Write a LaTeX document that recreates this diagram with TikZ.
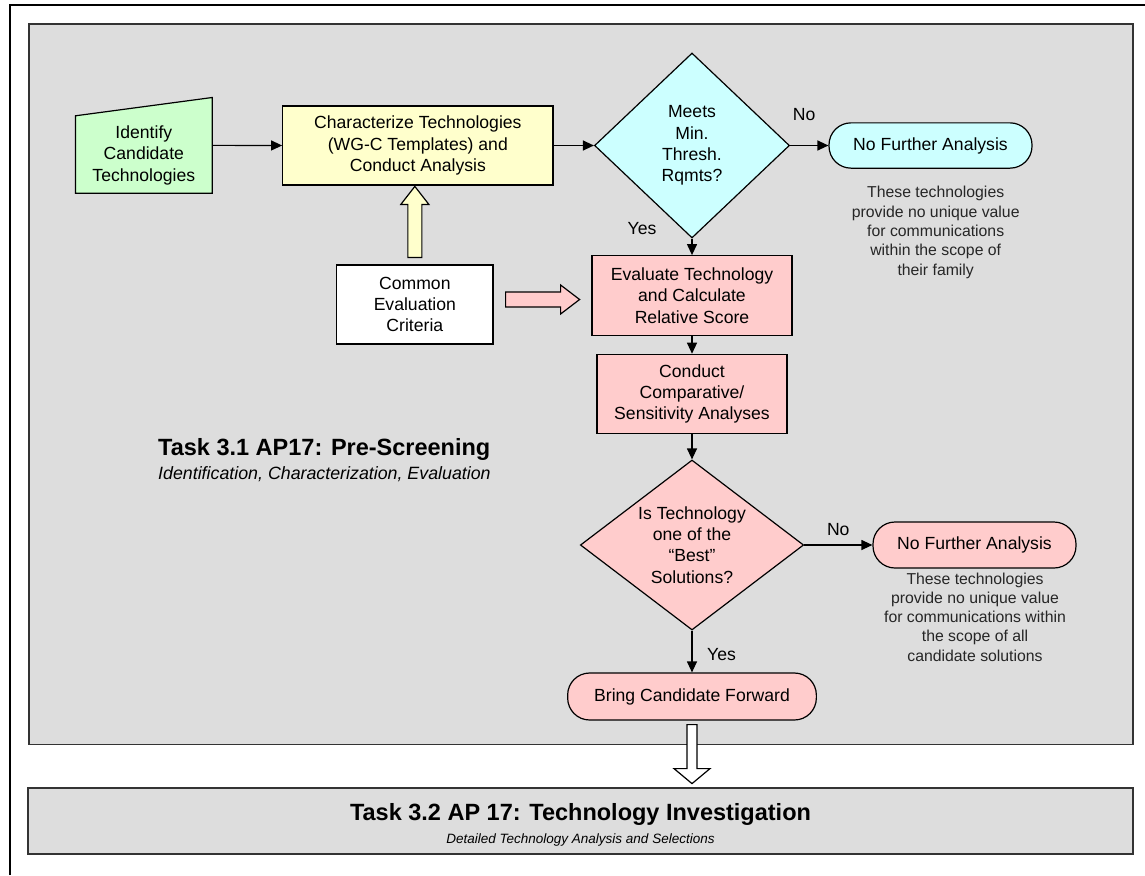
\documentclass[tikz,border=0pt]{standalone}
\usepackage{fontspec}
\setmainfont{Liberation Sans}
\usetikzlibrary{arrows.meta,shapes.geometric,calc}

\definecolor{idgreen}{HTML}{CCFFCC}
\definecolor{charyellow}{HTML}{FFFFCC}
\definecolor{threshcyan}{HTML}{CCFFFF}
\definecolor{evalpink}{HTML}{FFCCCC}
\definecolor{panelgray}{HTML}{DDDDDD}
\definecolor{paneledge}{HTML}{333333}

\tikzset{
	flowbox/.style={draw=black, line width=1.2pt, align=center, inner sep=0pt, font=\fontsize{17.6}{21.3}\selectfont},
	decision/.style={flowbox, diamond},
	terminal/.style={flowbox, rounded corners=22pt},
	flowarrow/.style={line width=1.2pt, -{Triangle[length=11pt,width=10pt]}},
	blockarrow/.style={draw=black, line width=1.2pt},
	panel/.style={draw=paneledge, fill=panelgray, line width=1.5pt},
	note/.style={align=center, inner sep=0pt, text=black!85, font=\fontsize{15.8}{19.3}\selectfont},
	lbl/.style={inner sep=0pt, font=\fontsize{17.6}{21.3}\selectfont}
}

\begin{document}
\begin{tikzpicture}[x=1pt,y=1pt,yscale=-1,xscale=1]
	\useasboundingbox (0,0) rectangle (1145,875);
	% frame and panels
	\draw[line width=2pt] (10,875) -- (10,5.5) -- (1145,5.5);
	\draw[panel] (29,24) rectangle (1133,744.5);
	\node[panel, minimum width=1105pt, minimum height=66pt] (task32) at (580.5,821) {};
	\node[anchor=base west, inner sep=0pt, font=\fontsize{23.5}{28}\selectfont\bfseries] (task31) at (158,455) {Task 3.1 AP17: Pre-Screening};
	\node[anchor=base west, inner sep=0pt, font=\fontsize{17.8}{21}\selectfont\itshape] (task31sub) at (158,479.5) {Identification, Characterization, Evaluation};
	\node[anchor=base, inner sep=0pt, font=\fontsize{23.5}{28}\selectfont\bfseries] (task32title) at (580.5,820) {Task 3.2 AP 17: Technology Investigation};
	\node[anchor=base, inner sep=0pt, font=\fontsize{13.5}{16}\selectfont\itshape] (task32sub) at (580.5,843.5) {Detailed Technology Analysis and Selections};

	% flow nodes
	\node[minimum width=136.4pt, minimum height=95.3pt, inner sep=0pt] (ident) at (143.85,145.35) {};
	\draw[line width=1.2pt, fill=idgreen] (ident.south west) -- (ident.south east) -- (ident.north east) -- ($(ident.north west)+(0,18.3)$) -- cycle;
	\node[flowbox, draw=none, align=center] (identtxt) at ($(ident.center)+(0,10)$) {Identify\\Candidate\\Technologies};
	\node[flowbox, fill=charyellow, minimum width=270.3pt, minimum height=79pt] (char) at (417.85,145.5) {Characterize Technologies\\(WG-C Templates) and\\Conduct Analysis};
	\node[decision, fill=threshcyan, minimum width=195pt, minimum height=185pt] (meets) at (692,145.5) {Meets\\Min.\\Thresh.\\Rqmts?};
	\node[terminal, fill=threshcyan, minimum width=203pt, minimum height=45.3pt] (nfa1) at (930.5,145.5) {No Further Analysis};
	\node[note] (note1) at (935.7,232.5) {These technologies\\provide no unique value\\for communications\\within the scope of\\their family};
	\node[flowbox, fill=white, minimum width=156.3pt, minimum height=79pt] (common) at (414.85,304.5) {Common\\Evaluation\\Criteria};
	\node[flowbox, fill=evalpink, minimum width=200pt, minimum height=80pt] (eval) at (692,295.7) {Evaluate Technology\\and Calculate\\Relative Score};
	\node[flowbox, fill=evalpink, minimum width=190pt, minimum height=79.4pt] (conduct) at (692,394) {Conduct\\Comparative/\\Sensitivity Analyses};
	\node[decision, fill=evalpink, aspect=1.31, minimum width=223.3pt, minimum height=170pt] (ask) at (692,545) {Is Technology\\one of the\\“Best”\\Solutions?};
	\node[terminal, fill=evalpink, minimum width=203pt, minimum height=46pt] (nfa2) at (974.5,545) {No Further Analysis};
	\node[note] (note2) at (975,617) {These technologies\\provide no unique value\\for communications within\\the scope of all\\candidate solutions};
	\node[terminal, fill=evalpink, minimum width=248.7pt, minimum height=47pt] (bring) at (692,696.5) {Bring Candidate Forward};

	% connectors
	\draw[flowarrow] (ident.east) -- (char.west);
	\draw[flowarrow] (char.east) -- (meets.west);
	\draw[flowarrow] (meets.east) -- (nfa1.west);
	\draw[flowarrow] (meets.south) -- (eval.north);
	\draw[flowarrow] (eval.south) -- (conduct.north);
	\draw[flowarrow] (conduct.south) -- (ask.north);
	\draw[flowarrow] (ask.east) -- (nfa2.west);
	\draw[flowarrow] (ask.south) -- (bring.north);
	\node[lbl] (no1) at ($(meets.east)+(14,-31)$) {No};
	\node[lbl] (yes1) at ($(meets.south)+(-50,-10)$) {Yes};
	\node[lbl] (no2) at ($(ask.east)+(34,-15.5)$) {No};
	\node[lbl] (yes2) at ($(ask.south)+(29.5,24)$) {Yes};

	% block arrows
	\draw[blockarrow, fill=charyellow] ($(common.north)+(-7,-7)$) -- ++(0,-53) -- ++(-7,0) -- ++(14,-18) -- ++(14,18) -- ++(-7,0) -- ++(0,53) -- cycle;
	\draw[blockarrow, fill=evalpink] ($(common.east)+(12,-12.5)$) -- ++(55,0) -- ++(0,-7) -- ++(19,14.5) -- ++(-19,14.5) -- ++(0,-7) -- ++(-55,0) -- cycle;
	\draw[blockarrow, fill=white] ($(bring.south)+(-5,4)$) -- ++(0,44) -- ++(-13,0) -- ++(18,15) -- ++(18,-15) -- ++(-13,0) -- ++(0,-44) -- cycle;
\end{tikzpicture}
\end{document}
